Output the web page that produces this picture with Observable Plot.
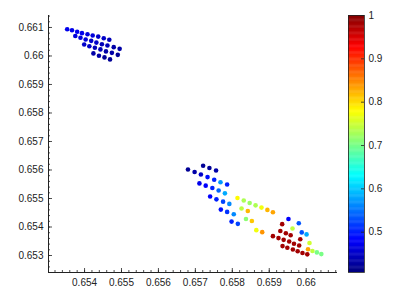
<!DOCTYPE html>
<html><head><meta charset="utf-8">
<script src="https://cdn.jsdelivr.net/npm/d3@7"></script>
<script src="https://cdn.jsdelivr.net/npm/@observablehq/plot@0.6"></script>
<style>
body{margin:0;background:#fff;}
#wrap{position:relative;width:412px;height:300px;font-family:"Liberation Sans",Arial,sans-serif;}
#wrap svg{position:absolute;top:0;}
</style></head><body>
<div id="wrap"></div>
<script>
// ---- data ----
const xs = [
 0.65353,0.65366,0.65380,0.65393,0.65408,0.65422,0.65437,0.65452,0.65467,
 0.65375,0.65389,0.65403,0.65418,0.65432,0.65447,0.65462,0.65479,0.65495,
 0.65399,0.65413,0.65428,0.65443,0.65458,0.65474,0.65490,
 0.65424,0.65439,0.65454,0.65469,
 0.65721,0.65738,0.65756,
 0.65680,0.65698,0.65715,0.65733,0.65751,0.65768,0.65786,
 0.65711,0.65728,0.65746,0.65763,0.65780,
 0.65740,0.65757,0.65775,0.65792,
 0.65769,0.65786,0.65804,
 0.65798,0.65815,
 0.65814,0.65831,0.65847,0.65863,0.65879,0.65895,0.65910,
 0.65825,0.65842,
 0.65837,0.65853,
 0.65865,0.65881,
 0.65952,0.65980,0.65935,0.65963,0.65988,0.66001,0.65930,0.65945,0.65958,
 0.65910,0.65925,0.65939,0.65954,0.65967,0.65984,0.65981,0.66009,
 0.65936,0.65949,0.65964,0.65977,0.65990,0.66003,0.66005,0.66017,0.66029,0.66041
];
const ys = [
 0.66094,0.66090,0.66085,0.66080,0.66076,0.66072,0.66068,0.66062,0.66057,
 0.66070,0.66064,0.66058,0.66053,0.66047,0.66041,0.66037,0.66031,0.66025,
 0.66040,0.66034,0.66029,0.66023,0.66016,0.66011,0.66004,
 0.66009,0.66001,0.65995,0.65988,
 0.65615,0.65607,0.65598,
 0.65602,0.65593,0.65584,0.65575,0.65566,0.65557,0.65549,
 0.65553,0.65545,0.65537,0.65528,0.65518,
 0.65507,0.65497,0.65489,0.65481,
 0.65461,0.65453,0.65445,
 0.65419,0.65411,
 0.65502,0.65493,0.65484,0.65476,0.65468,0.65460,0.65452,
 0.65465,0.65456,
 0.65428,0.65421,
 0.65389,0.65382,
 0.65428,0.65413,0.65410,0.65395,0.65381,0.65374,0.65386,0.65378,0.65371,
 0.65368,0.65361,0.65355,0.65349,0.65341,0.65357,0.65335,0.65344,
 0.65333,0.65327,0.65321,0.65315,0.65309,0.65304,0.65322,0.65316,0.65311,0.65305
];
const vals = [
 0.47,0.47,0.47,0.47,0.46,0.46,0.45,0.45,0.44,
 0.46,0.46,0.46,0.45,0.45,0.44,0.44,0.43,0.43,
 0.45,0.45,0.44,0.44,0.43,0.43,0.42,
 0.43,0.43,0.42,0.42,
 0.42,0.42,0.43,
 0.42,0.43,0.45,0.49,0.50,0.57,0.50,
 0.47,0.48,0.50,0.54,0.58,
 0.48,0.50,0.52,0.56,
 0.49,0.51,0.56,
 0.50,0.52,
 0.78,0.73,0.72,0.73,0.77,0.82,0.83,
 0.74,0.82,
 0.71,0.81,
 0.77,0.84,
 0.48,0.53,0.98,0.74,0.53,0.58,0.98,0.98,0.98,
 0.98,0.98,0.98,0.98,0.98,0.98,0.98,0.75,
 0.98,0.98,0.98,0.98,0.98,0.98,0.83,0.74,0.70,0.70
];
const xTicks = [0.654,0.655,0.656,0.657,0.658,0.659,0.660];
const yTicks = [0.653,0.654,0.655,0.656,0.657,0.658,0.659,0.660,0.661];
const cTicks = [0.5,0.6,0.7,0.8,0.9,1];
const xDomain = [0.653024, 0.660848];
const yDomain = [0.652404, 0.66142];
const cDomain = [0.407, 1];

const points = xs.map((x,i)=>({x, y: ys[i], v: vals[i]}));

// jet colormap
const clamp = t => Math.max(0, Math.min(1, t));
const jet = t => {
  const r = clamp(1.5 - Math.abs(4*t - 3)), g = clamp(1.5 - Math.abs(4*t - 2)), b = clamp(1.5 - Math.abs(4*t - 1));
  return `rgb(${Math.round(r*255)},${Math.round(g*255)},${Math.round(b*255)})`;
};
const colorScale = {type:"linear", domain: cDomain, interpolate: t => jet(t)};

const W = 412, H = 300, mL = 48, mR = 75, mT = 15, mB = 28;
const pw = W - mL - mR, ph = H - mT - mB;
const fmt = d => String(+d.toFixed(3));
const xMinor = d3.range(0, 40).map(i => +(0.6532 + i*0.0002).toFixed(4)).filter(d => d <= xDomain[1]);
const yMinor = d3.range(0, 50).map(i => +(0.6526 + i*0.0002).toFixed(4)).filter(d => d <= yDomain[1]);

const main = Plot.plot({
  width: W, height: H,
  marginLeft: mL, marginRight: mR, marginTop: mT, marginBottom: mB,
  style: {fontFamily: '"Liberation Sans", Arial, sans-serif', fontSize: "10px", color: "#222", background: "transparent"},
  x: {domain: xDomain},
  y: {domain: yDomain},
  color: colorScale,
  marks: [
    Plot.axisX({ticks: xTicks, tickFormat: fmt, tickSize: 0, tickPadding: 6, label: null, fontSize: 10}),
    Plot.axisY({ticks: yTicks, tickFormat: fmt, tickSize: 0, tickPadding: 5, label: null, fontSize: 10}),
    Plot.tickX(xMinor, {x: d => d, insetTop: ph - 2, stroke: "#222", strokeWidth: 0.8}),
    Plot.tickX(xTicks, {x: d => d, insetTop: ph - 4, stroke: "#222", strokeWidth: 0.8}),
    Plot.tickY(yMinor, {y: d => d, insetRight: pw - 2, stroke: "#222", strokeWidth: 0.8}),
    Plot.tickY(yTicks, {y: d => d, insetRight: pw - 4, stroke: "#222", strokeWidth: 0.8}),
    Plot.ruleX([xDomain[0]], {stroke: "#222", strokeWidth: 1}),
    Plot.ruleY([yDomain[0]], {stroke: "#222", strokeWidth: 1}),
    Plot.dot(points, {x: "x", y: "y", fill: "v", r: 2.3, stroke: null})
  ]
});
main.style.left = "0px";

// colorbar
const cbStops = d3.range(cDomain[0], cDomain[1], 0.002);
const cbW = 72;
const bar = Plot.plot({
  width: cbW, height: H,
  marginLeft: 8, marginRight: 48, marginTop: mT, marginBottom: mB,
  style: {fontFamily: '"Liberation Sans", Arial, sans-serif', fontSize: "10px", color: "#222", background: "transparent"},
  x: {domain: [0, 1], axis: null},
  y: {domain: cDomain},
  color: colorScale,
  marks: [
    Plot.rect(cbStops, {x1: 0, x2: 1, y1: d => d, y2: d => Math.min(cDomain[1], d + 0.003), fill: d => d}),
    Plot.tickY(cTicks, {y: d => d, insetLeft: 16 - 3, stroke: "#222", strokeWidth: 0.8}),
    Plot.frame({stroke: "#222", strokeWidth: 0.8}),
    Plot.axisY({anchor: "right", ticks: cTicks, tickFormat: d => String(+d.toFixed(1)), tickSize: 0, tickPadding: 4, label: null, fontSize: 10})
  ]
});
bar.style.left = (W - cbW) + "px";

const wrap = document.getElementById("wrap");
wrap.appendChild(main);
wrap.appendChild(bar);
</script>
</body></html>
